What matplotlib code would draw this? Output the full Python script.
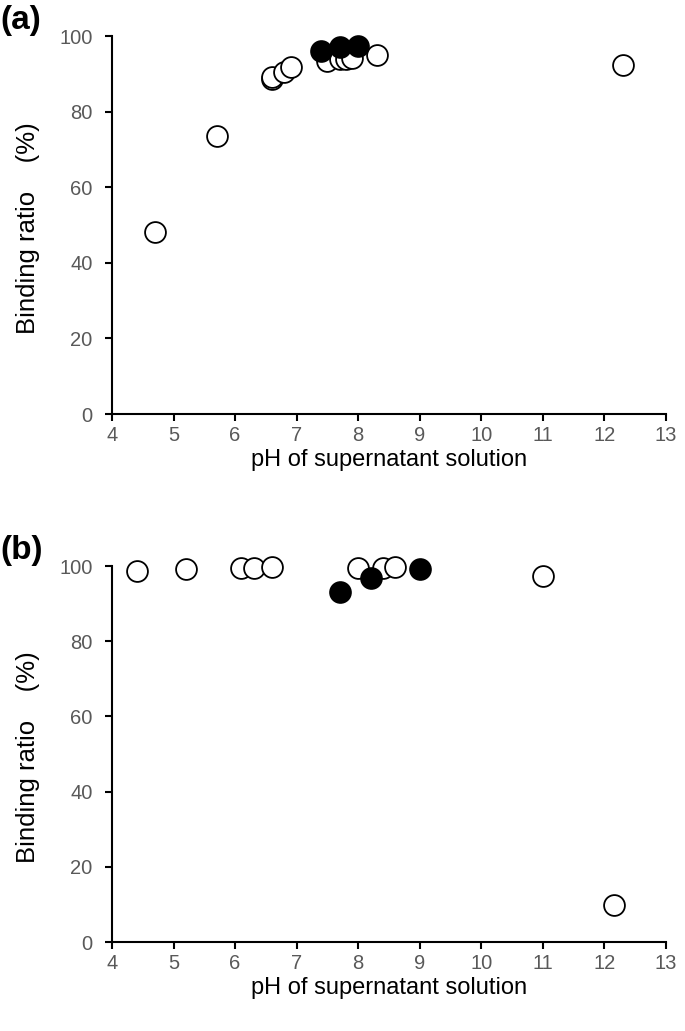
import matplotlib
matplotlib.use("Agg")
import matplotlib.pyplot as plt

plt.rcParams['font.family'] = ['Liberation Sans', 'DejaVu Sans']

# Panel (a)
a_open_x = [4.7, 5.7, 6.6, 6.6, 6.8, 6.9, 7.5, 7.7, 7.8, 7.9, 8.3, 12.3]
a_open_y = [48.1, 73.5, 88.5, 89.2, 90.5, 91.8, 93.3, 93.8, 93.8, 94.3, 95.0, 92.3]
a_fill_x = [7.4, 7.7, 8.0]
a_fill_y = [96.0, 97.0, 97.4]

# Panel (b)
b_open_x = [4.4, 5.2, 6.1, 6.3, 6.6, 8.0, 8.4, 8.6, 11.0, 12.15]
b_open_y = [98.8, 99.2, 99.6, 99.6, 99.7, 99.6, 99.6, 99.7, 97.4, 9.8]
b_fill_x = [7.7, 8.2, 9.0]
b_fill_y = [93.2, 96.8, 99.2]

x_ticks = [4, 5, 6, 7, 8, 9, 10, 11, 12, 13]
y_ticks = [0, 20, 40, 60, 80, 100]
panel_labels = ['(a)', '(b)']
xlabel = 'pH of supernatant solution'
ylabel = 'Binding ratio    (%)'

W, H = 685, 1031
fig = plt.figure(figsize=(W / 100, H / 100), dpi=100)

axes_px = [(112, 666, 36, 414), (112, 666, 566, 942)]
data = [(a_open_x, a_open_y, a_fill_x, a_fill_y),
        (b_open_x, b_open_y, b_fill_x, b_fill_y)]
tick_grey = '#595959'

for i, ((l, r, t, b), (ox, oy, fx, fy)) in enumerate(zip(axes_px, data)):
    ax = fig.add_axes([l / W, 1 - b / H, (r - l) / W, (b - t) / H])
    ax.scatter(ox, oy, s=225, facecolor='white', edgecolor='black',
               linewidth=1.3, zorder=3, clip_on=False)
    ax.scatter(fx, fy, s=225, facecolor='black', edgecolor='black',
               linewidth=1.3, zorder=4, clip_on=False)
    ax.set_xlim(4, 13)
    ax.set_ylim(0, 100)
    ax.set_xticks(x_ticks)
    ax.set_yticks(y_ticks)
    for s in ['top', 'right']:
        ax.spines[s].set_visible(False)
    for s in ['left', 'bottom']:
        ax.spines[s].set_linewidth(1.5)
    ax.tick_params(axis='both', direction='out', length=5, width=1.5,
                   labelsize=14.5, labelcolor=tick_grey)
    ax.tick_params(axis='y', pad=9)
    ax.tick_params(axis='x', pad=3.5)
    # axis titles
    fig.text(((l + r) / 2) / W, 1 - (b + 46) / H, xlabel, fontsize=17,
             ha='center', va='center')
    fig.text(28.5 / W, 1 - ((t + b) / 2 + 3) / H, ylabel, fontsize=18.5,
             ha='center', va='center', rotation=90)
    fig.text(0 / W, 1 - (t - 15) / H, panel_labels[i], fontsize=24,
             fontweight='bold', ha='left', va='center')

fig.savefig('out.png', dpi=100)
